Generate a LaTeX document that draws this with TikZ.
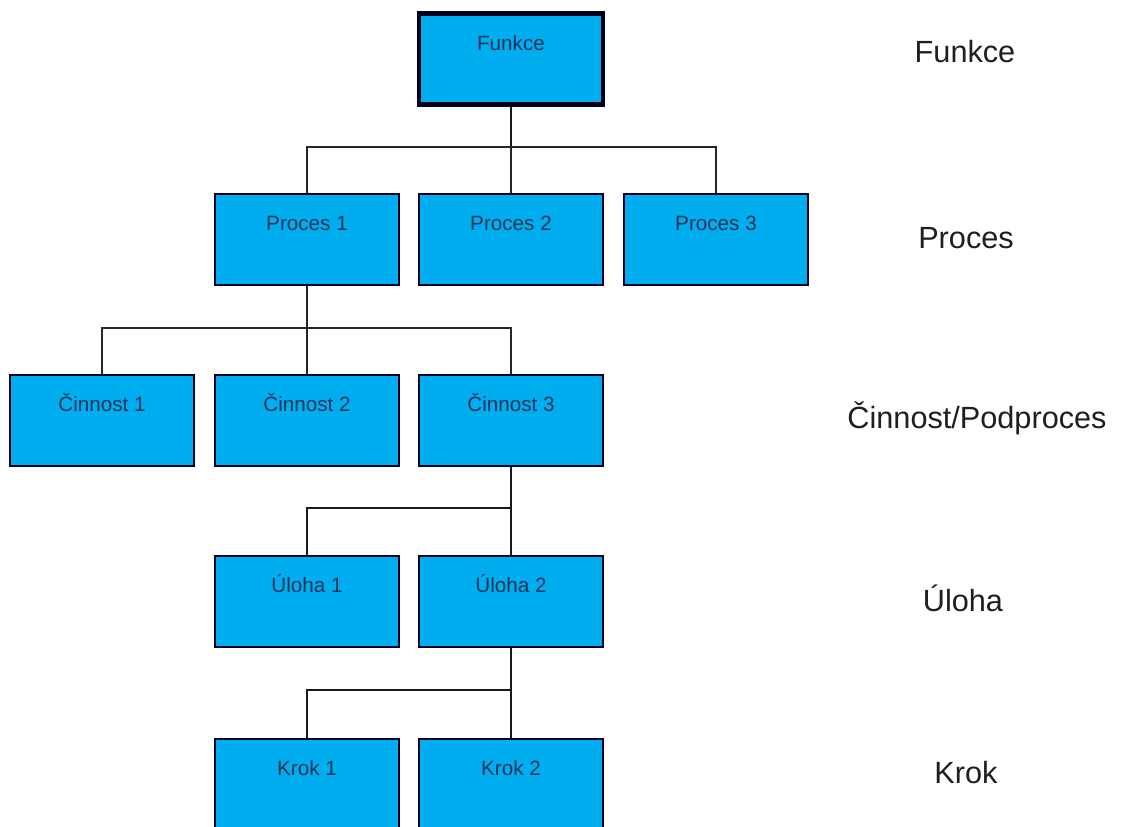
\documentclass[tikz,border=0pt]{standalone}
\usepackage{fontspec}
\setmainfont{Liberation Sans}
\begin{document}
\begin{tikzpicture}[x=0.75pt,y=-0.75pt,
  box/.style={draw=black!85!blue, line width=1.4pt, fill=boxblue,
    minimum width=184*0.75pt, inner xsep=0pt, inner ysep=0pt,
    text height=27.5pt, text depth=40.75pt,
    font=\fontsize{15.5pt}{18pt}\selectfont, text=boxtext, anchor=north},
  topbox/.style={box, line width=3.6pt, draw=black!90!blue},
  level/.style={font=\fontsize{23pt}{27pt}\selectfont, text=black!88},
  conn/.style={line width=0.8pt, black!85},
  stem/.style={line width=1.6pt, black!90}]
\definecolor{boxblue}{RGB}{0,174,239}
\definecolor{boxtext}{RGB}{22,52,90}
\clip (0,0) rectangle (1133,827);
\fill[white] (0,0) rectangle (1133,827);

% hierarchy boxes
\node[topbox] (f)  at (511,11)  {Funkce};
\node[box]    (p1) at (307,193) {Proces 1};
\node[box]    (p2) at (511,193) {Proces 2};
\node[box]    (p3) at (716,193) {Proces 3};
\node[box]    (c1) at (102,374) {Činnost 1};
\node[box]    (c2) at (307,374) {Činnost 2};
\node[box]    (c3) at (511,374) {Činnost 3};
\node[box]    (u1) at (307,555) {Úloha 1};
\node[box]    (u2) at (511,555) {Úloha 2};
\node[box]    (k1) at (307,738) {Krok 1};
\node[box]    (k2) at (511,738) {Krok 2};

% branch points
\coordinate (bf) at (511,147);
\coordinate (bp) at (307,328);
\coordinate (bc) at (511,508);
\coordinate (bu) at (511,690);

% connectors
\draw[stem] (f.south) -- (bf);
\draw[conn] (p1.north) |- (bf) -| (p3.north);
\draw[conn] (bf) -- (p2.north);

\draw[line width=1.1pt, black!85] (p1.south) -- (bp);
\draw[conn] (c1.north) |- (bp) -| (c3.north);
\draw[conn] (bp) -- (c2.north);

\draw[stem] (c3.south) -- (u2.north);
\draw[stem] (bc) -| (u1.north);

\draw[stem] (u2.south) -- (k2.north);
\draw[stem] (bu) -| (k1.north);

% level captions
\node[level] (lf) at (965,52)  {Funkce};
\node[level] (lp) at (966,238) {Proces};
\node[level] (lc) at (977,418) {Činnost/Podproces};
\node[level] (lu) at (963,598) {Úloha};
\node[level] (lk) at (966,773) {Krok};
\end{tikzpicture}
\end{document}
